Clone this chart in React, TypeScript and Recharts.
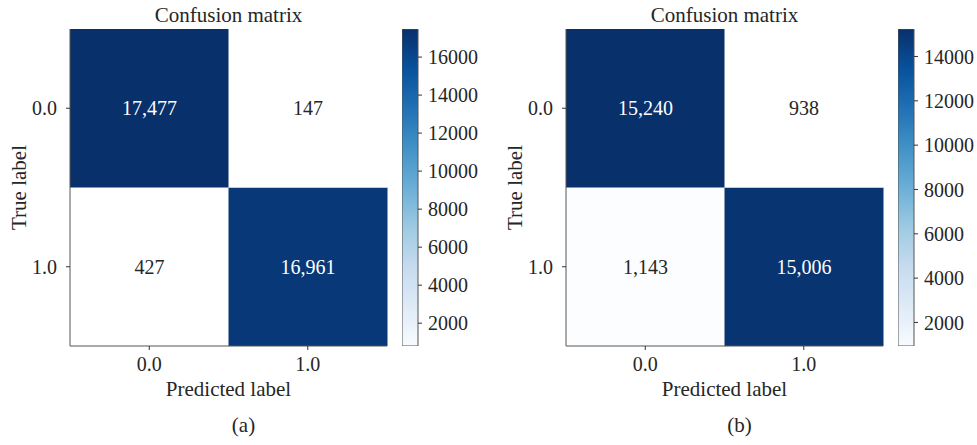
import { BarChart, Bar, XAxis, YAxis, Cell, LabelList } from 'recharts'

const FONT = '"Liberation Serif", "DejaVu Serif", serif'
const INK = '#262626'
const SPINE = '#555'

// matplotlib "Blues"
const blues = ['#f7fbff', '#deebf7', '#c6dbef', '#9ecae1', '#6baed6', '#4292c6', '#2171b5', '#08519c', '#08306b']
// the printed cells show the low end as plain white
const cellBlues = ['#ffffff', ...blues.slice(1)]

const predictedLabels = ['0.0', '1.0']
const trueLabels = ['0.0', '1.0']

// rows = true label, cols = predicted label
const matrixA = [
  [17477, 147],
  [427, 16961],
]
const matrixB = [
  [15240, 938],
  [1143, 15006],
]

const colorRangeA = [800, 17477]
const colorRangeB = [938, 15240]
const colorTicksA = [2000, 4000, 6000, 8000, 10000, 12000, 14000, 16000]
const colorTicksB = [2000, 4000, 6000, 8000, 10000, 12000, 14000]

const hex = (h: string) => [1, 3, 5].map((i) => parseInt(h.slice(i, i + 2), 16))

function cmap(v: number, range: number[], stops: string[]) {
  let t = (v - range[0]) / (range[1] - range[0])
  t = Math.max(0, Math.min(1, t))
  const pos = t * (stops.length - 1)
  const i = Math.min(stops.length - 2, Math.floor(pos))
  const f = pos - i
  const a = hex(stops[i])
  const b = hex(stops[i + 1])
  const c = a.map((x, k) => Math.round(x + (b[k] - x) * f))
  return `rgb(${c[0]},${c[1]},${c[2]})`
}

function Panel({ matrix, range, ticks, caption, left, id }: any) {
  const rows = predictedLabels.map((p, i) => ({ pred: p, t0: 1, t1: 1, v0: matrix[0][i], v1: matrix[1][i] }))
  const mid = (range[0] + range[1]) / 2

  const cellLabel = (props: any) => {
    const { x, y, width, height, value } = props
    return (
      <text
        x={Number(x) + Number(width) / 2}
        y={Number(y) + Number(height) / 2}
        textAnchor="middle"
        dominantBaseline="central"
        fontFamily={FONT}
        fontSize={20}
        fill={value > mid ? '#ffffff' : INK}
      >
        {Number(value).toLocaleString('en-US')}
      </text>
    )
  }

  const tick = { fontFamily: FONT, fontSize: 20, fill: INK }

  return (
    <div style={{ position: 'absolute', left, top: 0, width: 490, height: 445 }}>
      <div
        style={{
          position: 'absolute', left: 70, top: 5, width: 317, textAlign: 'center',
          fontFamily: FONT, fontSize: 21, lineHeight: '21px', color: INK,
        }}
      >
        Confusion matrix
      </div>

      <div style={{ position: 'absolute', left: 0, top: 0 }}>
        <BarChart width={400} height={400} data={rows} margin={{ top: 29, right: 13, bottom: 0, left: 0 }} barCategoryGap={0}>
          <XAxis
            dataKey="pred"
            height={54}
            stroke={SPINE}
            tickSize={4}
            tickMargin={7}
            tick={tick}
            tickLine={{ stroke: '#333' }}
            label={{
              content: (p: any) => (
                <text
                  x={p.viewBox.x + p.viewBox.width / 2}
                  y={396}
                  textAnchor="middle"
                  fontFamily={FONT}
                  fontSize={21}
                  fill={INK}
                >
                  Predicted label
                </text>
              ),
            }}
          />
          <XAxis xAxisId="top" dataKey="pred" orientation="top" height={0} stroke={SPINE} tick={false} tickLine={false} />
          <YAxis
            type="number"
            domain={[0, 2]}
            ticks={[0.5, 1.5]}
            tickFormatter={(v: number) => (v > 1 ? trueLabels[0] : trueLabels[1])}
            width={70}
            stroke={SPINE}
            tickSize={4}
            tickMargin={9}
            tick={tick}
            tickLine={{ stroke: '#333' }}
            label={{
              content: (p: any) => {
                const cx = 19
                const cy = p.viewBox.y + p.viewBox.height / 2
                return (
                  <text
                    x={cx}
                    y={cy}
                    transform={`rotate(-90, ${cx}, ${cy})`}
                    textAnchor="middle"
                    dominantBaseline="central"
                    fontFamily={FONT}
                    fontSize={21}
                    fill={INK}
                  >
                    True label
                  </text>
                )
              },
            }}
          />
          <YAxis yAxisId="right" orientation="right" type="number" domain={[0, 2]} width={0} stroke={SPINE} tick={false} tickLine={false} />
          <Bar dataKey="t1" stackId="m" isAnimationActive={false}>
            {rows.map((r, i) => (
              <Cell key={i} fill={cmap(r.v1, range, cellBlues)} />
            ))}
            <LabelList dataKey="v1" content={cellLabel} />
          </Bar>
          <Bar dataKey="t0" stackId="m" isAnimationActive={false}>
            {rows.map((r, i) => (
              <Cell key={i} fill={cmap(r.v0, range, cellBlues)} />
            ))}
            <LabelList dataKey="v0" content={cellLabel} />
          </Bar>
        </BarChart>
      </div>

      <div style={{ position: 'absolute', left: 402, top: 0 }}>
        <BarChart width={84} height={400} data={[{ k: 'cb', v: range[1] }]} margin={{ top: 29, right: 0, bottom: 54, left: 0 }} barCategoryGap={0}>
          <defs>
            <linearGradient id={`cb-${id}`} x1="0" y1="1" x2="0" y2="0">
              {blues.map((c, i) => (
                <stop key={i} offset={`${(i / (blues.length - 1)) * 100}%`} stopColor={c} />
              ))}
            </linearGradient>
          </defs>
          <XAxis dataKey="k" hide />
          <YAxis
            orientation="right"
            type="number"
            domain={range}
            ticks={ticks}
            allowDataOverflow
            width={68}
            axisLine={false}
            tickSize={4}
            tickMargin={6}
            tick={tick}
            tickLine={{ stroke: '#333' }}
          />
          <Bar dataKey="v" fill={`url(#cb-${id})`} stroke={SPINE} strokeWidth={1} isAnimationActive={false} />
        </BarChart>
      </div>

      <div
        style={{
          position: 'absolute', left: 70, top: 415, width: 347, textAlign: 'center',
          fontFamily: FONT, fontSize: 21, lineHeight: '21px', color: INK,
        }}
      >
        {caption}
      </div>
    </div>
  )
}

export default function App() {
  return (
    <div style={{ position: 'absolute', left: 0, top: 0, width: 977, height: 445, background: '#fff', overflow: 'hidden' }}>
      <Panel matrix={matrixA} range={colorRangeA} ticks={colorTicksA} caption="(a)" left={0} id="a" />
      <Panel matrix={matrixB} range={colorRangeB} ticks={colorTicksB} caption="(b)" left={496} id="b" />
    </div>
  )
}
